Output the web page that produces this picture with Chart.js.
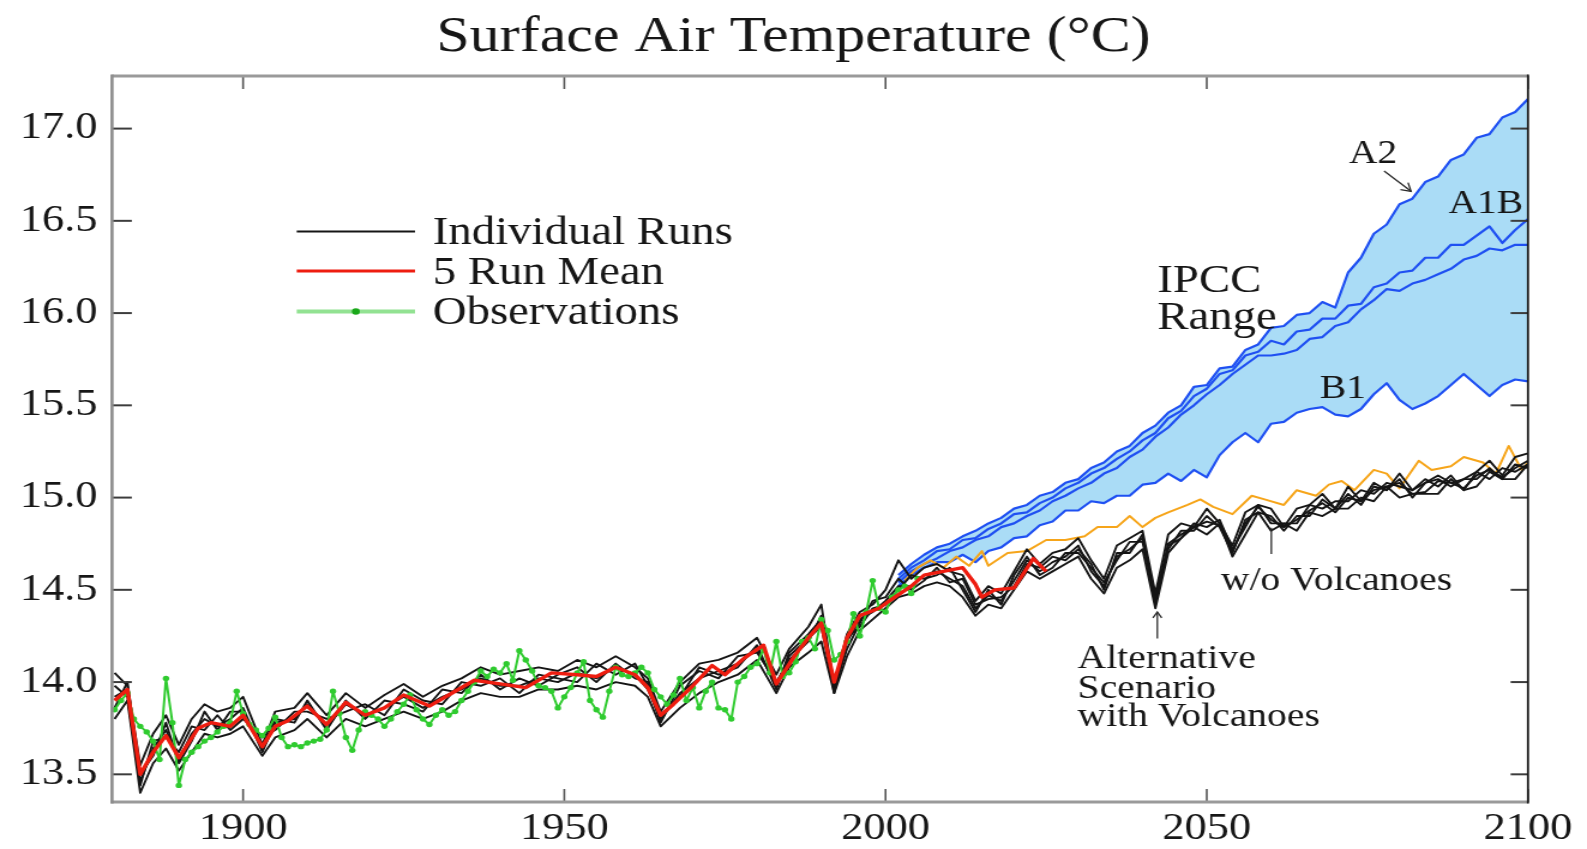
<!DOCTYPE html>
<html>
<head>
<meta charset="utf-8">
<script src="https://cdn.jsdelivr.net/npm/chart.js@4.4.1/dist/chart.umd.min.js"></script>
<style>
html,body{margin:0;padding:0;background:#fff;overflow:hidden}
#c{display:block}
</style>
</head>
<body>
<canvas id="c" width="1323" height="849" style="width:1587px;height:849px"></canvas>
<script>
// ---------------- DATA ----------------
const xTicks = [1900, 1950, 2000, 2050, 2100];
const yTicks = [13.5, 14.0, 14.5, 15.0, 15.5, 16.0, 16.5, 17.0];

// 5 Run Mean (red)
const meanYears = [1880,1882,1884,1886,1888,1890,1893,1895,1898,1900,
                   1903,1905,1907,1910,1913,1916,1919,1922,1925,1929,
                   1932,1936,1940,1944,1948,1952,1955,1958,1961,1963,
                   1965,1967,1970,1973,1975,1978,1981,1983,1986,1988,
                   1990,1992,1994,1996,1999,2001,2004,2006,2009,2012,
                   2014,2015,2017,2020,2023,2025];
const meanVals  = [13.90,13.96,13.50,13.62,13.71,13.59,13.75,13.78,13.76,13.82,
                   13.65,13.76,13.79,13.87,13.77,13.89,13.82,13.86,13.93,13.87,
                   13.93,14.01,13.99,13.97,14.05,14.04,14.03,14.08,14.04,13.97,
                   13.82,13.88,13.98,14.09,14.04,14.13,14.20,13.99,14.15,14.24,
                   14.32,14.00,14.24,14.36,14.40,14.45,14.52,14.58,14.60,14.62,
                   14.53,14.46,14.50,14.51,14.67,14.60];

// Observations (green), annual from 1880
const obsStartYear = 1880;
const obsVals = [13.85,13.90,13.94,13.80,13.76,13.73,13.68,13.58,14.02,13.78,
                 13.44,13.58,13.62,13.65,13.68,13.70,13.73,13.76,13.78,13.95,
                 13.83,13.77,13.74,13.71,13.75,13.81,13.70,13.65,13.66,13.65,
                 13.67,13.68,13.69,13.74,13.95,13.83,13.70,13.63,13.74,13.84,
                 13.82,13.80,13.76,13.80,13.84,13.88,13.93,13.85,13.80,13.77,
                 13.82,13.85,13.82,13.84,13.90,13.95,14.00,14.06,14.03,14.07,
                 14.05,14.10,14.01,14.17,14.12,14.06,13.98,13.97,13.95,13.86,
                 13.92,13.97,14.05,14.11,13.90,13.85,13.81,13.95,14.08,14.04,
                 14.03,14.05,14.08,14.05,13.96,13.92,13.88,13.93,14.02,13.90,
                 13.97,13.86,13.95,14.00,13.86,13.85,13.80,14.00,14.03,14.08,
                 14.10,14.18,14.05,14.22,14.03,14.05,14.11,14.22,14.24,14.18,
                 14.34,14.28,14.12,14.15,14.22,14.37,14.25,14.38,14.55,14.40,
                 14.38,14.46,14.50,14.52,14.48,14.56];

// Individual runs (black), incl. alternative scenario with volcanoes
const runYears = [1880,1882,1884,1886,1888,1890,1892,1894,1896,1898,
                  1900,1903,1905,1908,1910,1913,1916,1919,1922,1925,
                  1928,1931,1934,1937,1940,1943,1946,1949,1952,1955,
                  1958,1961,1963,1965,1968,1971,1974,1977,1980,1983,
                  1985,1988,1990,1992,1994,1996,1998,2000,2002,2004,
                  2006,2008,2010,2012,2014,2016,2018,2020,2022,2024,
                  2026,2028,2030,2032,2034,2036,2038,2040,2042,2044,
                  2046,2048,2050,2052,2054,2056,2058,2060,2062,2064,
                  2066,2068,2070,2072,2074,2076,2078,2080,2082,2084,
                  2086,2088,2090,2092,2094,2096,2098,2100];
const run1 = [14.05,13.98,13.55,13.72,13.82,13.66,13.80,13.88,13.84,13.86,
              13.92,13.66,13.84,13.86,13.94,13.82,13.94,13.86,13.93,13.99,
              13.92,13.98,14.02,14.08,14.04,14.06,14.08,14.06,14.12,14.08,
              14.14,14.08,14.02,13.84,14.00,14.10,14.12,14.16,14.24,14.04,
              14.18,14.30,14.42,13.98,14.26,14.38,14.42,14.50,14.66,14.56,
              14.62,14.64,14.60,14.58,14.44,14.52,14.48,14.60,14.72,14.64,
              14.70,14.72,14.78,14.66,14.56,14.74,14.78,14.82,14.48,14.80,
              14.86,14.84,14.94,14.86,14.74,14.92,14.96,14.94,14.84,14.94,
              14.96,15.02,14.94,15.06,14.98,15.08,15.04,15.13,15.04,15.08,
              15.12,15.08,15.10,15.14,15.20,15.12,15.22,15.24];
const run2 = [13.80,13.90,13.40,13.56,13.64,13.52,13.62,13.72,13.70,13.72,
              13.76,13.60,13.70,13.74,13.80,13.70,13.80,13.76,13.80,13.84,
              13.80,13.84,13.90,13.94,13.92,13.92,13.96,13.96,13.98,13.96,
              14.00,13.98,13.92,13.76,13.86,13.94,14.00,14.04,14.12,13.94,
              14.08,14.16,14.22,13.94,14.14,14.28,14.34,14.40,14.46,14.48,
              14.52,14.54,14.52,14.46,14.36,14.42,14.40,14.50,14.60,14.56,
              14.60,14.64,14.68,14.56,14.48,14.62,14.66,14.72,14.40,14.70,
              14.78,14.84,14.80,14.86,14.68,14.80,14.92,14.82,14.86,14.82,
              14.92,14.90,14.94,14.94,15.00,14.98,15.06,15.00,15.02,15.02,
              15.02,15.10,15.04,15.06,15.14,15.10,15.10,15.18];
const run3 = [13.92,13.96,13.46,13.64,13.74,13.58,13.72,13.80,13.76,13.80,
              13.86,13.62,13.78,13.80,13.88,13.76,13.88,13.82,13.86,13.92,
              13.86,13.92,13.96,14.02,13.98,13.98,14.02,14.00,14.05,14.02,
              14.08,14.04,13.96,13.80,13.94,14.02,14.06,14.10,14.18,13.98,
              14.14,14.24,14.30,13.96,14.22,14.34,14.38,14.44,14.52,14.52,
              14.58,14.60,14.56,14.52,14.40,14.47,14.44,14.55,14.66,14.60,
              14.65,14.68,14.74,14.60,14.52,14.68,14.72,14.78,14.44,14.75,
              14.80,14.84,14.87,14.85,14.71,14.86,14.95,14.88,14.84,14.88,
              14.93,14.97,14.92,15.00,14.98,15.04,15.06,15.08,15.02,15.03,
              15.09,15.08,15.05,15.12,15.15,15.11,15.16,15.20];
const run4 = [13.98,13.92,13.44,13.68,13.70,13.62,13.76,13.74,13.82,13.74,
              13.80,13.70,13.74,13.84,13.84,13.80,13.84,13.88,13.82,13.96,
              13.90,13.88,14.00,13.98,14.02,13.94,14.04,14.02,14.00,14.10,
              14.04,14.10,13.98,13.78,13.98,14.06,14.02,14.14,14.16,14.00,
              14.12,14.22,14.36,13.96,14.18,14.32,14.44,14.46,14.56,14.50,
              14.55,14.62,14.54,14.56,14.42,14.45,14.46,14.52,14.64,14.62,
              14.68,14.66,14.72,14.64,14.50,14.70,14.70,14.80,14.42,14.74,
              14.78,14.86,14.84,14.88,14.72,14.84,14.96,14.86,14.86,14.86,
              14.96,14.94,14.98,14.98,15.04,15.02,15.08,15.06,15.04,15.10,
              15.06,15.12,15.04,15.14,15.10,15.16,15.14,15.18];
const run5 = [13.86,14.00,13.50,13.60,13.78,13.56,13.68,13.84,13.74,13.84,
              13.84,13.64,13.80,13.78,13.90,13.74,13.90,13.80,13.90,13.88,
              13.84,13.96,13.94,14.04,13.96,14.02,13.98,14.04,14.08,14.00,
              14.10,14.02,14.00,13.82,13.92,14.08,14.04,14.08,14.20,13.96,
              14.16,14.26,14.34,13.94,14.24,14.30,14.40,14.42,14.50,14.58,
              14.56,14.58,14.62,14.50,14.38,14.50,14.42,14.58,14.68,14.58,
              14.62,14.70,14.70,14.62,14.54,14.66,14.76,14.76,14.46,14.72,
              14.82,14.82,14.90,14.84,14.70,14.88,14.92,14.90,14.82,14.90,
              14.90,14.99,14.94,15.02,14.96,15.06,15.04,15.10,15.00,15.08,
              15.10,15.06,15.10,15.10,15.16,15.10,15.18,15.16];

// Scenario without volcanoes (orange)
const noVolcYears = [2003,2005,2007,2009,2011,2013,2015,2016,2019,2022,
                     2025,2028,2031,2033,2036,2038,2040,2042,2044,2047,
                     2049,2051,2054,2057,2059,2062,2064,2067,2069,2071,
                     2073,2076,2078,2080,2083,2085,2088,2090,2093,2095,
                     2097,2099,2100];
const noVolcVals  = [14.55,14.62,14.66,14.62,14.68,14.63,14.71,14.63,14.70,14.71,
                     14.77,14.77,14.79,14.84,14.84,14.90,14.84,14.89,14.92,14.96,
                     14.99,14.95,14.91,15.01,14.99,14.96,15.04,15.01,15.07,15.09,
                     15.04,15.15,15.13,15.05,15.20,15.15,15.17,15.22,15.19,15.13,
                     15.28,15.15,15.19];

// IPCC scenarios (blue)
const ipccYears = [2002,2004,2006,2008,2010,2012,2014,2016,2018,2020,
                   2022,2024,2026,2028,2030,2032,2034,2036,2038,2040,
                   2042,2044,2046,2048,2050,2052,2054,2056,2058,2060,
                   2062,2064,2066,2068,2070,2072,2074,2076,2078,2080,
                   2082,2084,2086,2088,2090,2092,2094,2096,2098,2100];
const a2Vals   = [14.58,14.64,14.69,14.73,14.75,14.79,14.82,14.86,14.89,14.94,
                  14.96,15.01,15.03,15.08,15.10,15.16,15.19,15.25,15.28,15.35,
                  15.39,15.46,15.50,15.60,15.61,15.70,15.71,15.80,15.83,15.92,
                  15.93,15.99,16.00,16.06,16.03,16.22,16.30,16.43,16.48,16.59,
                  16.62,16.71,16.74,16.83,16.86,16.95,16.97,17.06,17.09,17.16];
const a1bVals1 = [14.56,14.62,14.66,14.71,14.72,14.77,14.78,14.83,14.86,14.91,
                  14.92,14.97,15.00,15.05,15.08,15.13,15.16,15.21,15.25,15.31,
                  15.35,15.43,15.47,15.55,15.59,15.67,15.69,15.77,15.79,15.85,
                  15.83,15.90,15.91,15.97,15.97,16.04,16.05,16.14,16.16,16.22,
                  16.23,16.30,16.30,16.37,16.37,16.42,16.47,16.38,16.45,16.51];
const a1bVals2 = [14.54,14.60,14.64,14.67,14.71,14.73,14.77,14.79,14.84,14.86,
                  14.90,14.93,14.98,15.01,15.05,15.08,15.13,15.16,15.22,15.26,
                  15.33,15.38,15.45,15.50,15.56,15.61,15.67,15.72,15.77,15.77,
                  15.78,15.80,15.86,15.87,15.93,15.95,16.02,16.07,16.13,16.12,
                  16.16,16.18,16.21,16.24,16.29,16.31,16.35,16.34,16.37,16.37];
const b1Vals   = [14.52,14.58,14.62,14.65,14.65,14.69,14.65,14.71,14.73,14.78,
                  14.79,14.85,14.87,14.93,14.93,14.98,14.97,15.01,15.01,15.07,
                  15.08,15.13,15.09,15.15,15.11,15.23,15.30,15.35,15.30,15.40,
                  15.41,15.46,15.48,15.49,15.45,15.44,15.48,15.56,15.62,15.53,
                  15.48,15.51,15.55,15.61,15.67,15.61,15.55,15.61,15.64,15.63];

// ---------------- CHART ----------------
const SERIF = '"Liberation Serif", "Times New Roman", serif';
const SX = 1587 / 1323;               // horizontal stretch of the canvas
const toPts = (xs, ys) => xs.map((x, i) => ({x: x, y: ys[i]}));
const obsYears = obsVals.map((_, i) => obsStartYear + i);

const COLORS = {
  black: '#151515', red: '#ee1d10', green: '#2fcb2f', greenDot: '#1aa81a',
  legendGreen: '#92e292', orange: '#f6a51a', blue: '#1f50f2', fill: '#aadcf6',
  text: '#161616'
};

const frameTicks = {
  id: 'frameTicks',
  afterDatasetsDraw(chart) {
    const {ctx, chartArea: a, scales: {x, y}} = chart;
    ctx.save();
    ctx.lineCap = 'butt';
    ctx.strokeStyle = '#3c3c3c';
    ctx.lineWidth = 2;
    yTicks.forEach(v => {
      const py = y.getPixelForValue(v);
      ctx.beginPath(); ctx.moveTo(a.left, py); ctx.lineTo(a.left + 16.5, py); ctx.stroke();
      ctx.beginPath(); ctx.moveTo(a.right, py); ctx.lineTo(a.right - 14.5, py); ctx.stroke();
    });
    ctx.strokeStyle = '#555';
    ctx.lineWidth = 1.6;
    xTicks.forEach(v => {
      const px = x.getPixelForValue(v);
      ctx.beginPath(); ctx.moveTo(px, a.bottom); ctx.lineTo(px, a.bottom - 13); ctx.stroke();
      ctx.beginPath(); ctx.moveTo(px, a.top); ctx.lineTo(px, a.top + 13); ctx.stroke();
    });
    // frame
    ctx.strokeStyle = '#9a9a9a'; ctx.lineWidth = 3;
    ctx.beginPath(); ctx.moveTo(a.left, a.top); ctx.lineTo(a.right, a.top); ctx.stroke();
    ctx.beginPath(); ctx.moveTo(a.left - 1, a.bottom); ctx.lineTo(a.right, a.bottom); ctx.stroke();
    ctx.strokeStyle = '#8d8d8d'; ctx.lineWidth = 2.6;
    ctx.beginPath(); ctx.moveTo(a.left, a.top - 1.5); ctx.lineTo(a.left, a.bottom + 1.5); ctx.stroke();
    ctx.strokeStyle = '#1c1c1c'; ctx.lineWidth = 1.8;
    ctx.beginPath(); ctx.moveTo(a.right, a.top - 1.5); ctx.lineTo(a.right, a.bottom + 1.5); ctx.stroke();
    ctx.restore();
  }
};

// annotation anchors, in data units (year, °C)
const notes = [
  {t: 'A2', x: 2072.1, y: 16.815, size: 33},
  {t: 'A1B', x: 2087.6, y: 16.545, size: 33},
  {t: 'IPCC', x: 2042.3, y: 16.114, size: 39},
  {t: 'Range', x: 2042.3, y: 15.916, size: 39},
  {t: 'B1', x: 2067.6, y: 15.539, size: 33},
  {t: 'w/o Volcanoes', x: 2052.2, y: 14.498, size: 33},
  {t: 'Alternative', x: 2029.9, y: 14.075, size: 33},
  {t: 'Scenario', x: 2029.9, y: 13.913, size: 33},
  {t: 'with Volcanoes', x: 2029.9, y: 13.76, size: 33}
];

function arrow(ctx, x1, y1, x2, y2, head) {
  ctx.beginPath(); ctx.moveTo(x1, y1); ctx.lineTo(x2, y2); ctx.stroke();
  const ang = Math.atan2(y2 - y1, x2 - x1);
  ctx.beginPath();
  ctx.moveTo(x2 - head * Math.cos(ang - 0.55), y2 - head * Math.sin(ang - 0.55));
  ctx.lineTo(x2, y2);
  ctx.lineTo(x2 - head * Math.cos(ang + 0.55), y2 - head * Math.sin(ang + 0.55));
  ctx.stroke();
}

const annotations = {
  id: 'annotations',
  afterDatasetsDraw(chart) {
    const {ctx, scales: {x, y}} = chart;
    ctx.save();
    ctx.fillStyle = COLORS.text;
    ctx.textAlign = 'left';
    ctx.textBaseline = 'alphabetic';
    notes.forEach(n => {
      ctx.font = n.size + 'px ' + SERIF;
      ctx.fillText(n.t, x.getPixelForValue(n.x), y.getPixelForValue(n.y));
    });
    ctx.strokeStyle = '#2a2a2a';
    ctx.lineWidth = 1.3;
    arrow(ctx, x.getPixelForValue(2077.6), y.getPixelForValue(16.77),
               x.getPixelForValue(2081.8), y.getPixelForValue(16.66), 9);
    arrow(ctx, x.getPixelForValue(2042.3), y.getPixelForValue(14.236),
               x.getPixelForValue(2042.3), y.getPixelForValue(14.38), 7);
    ctx.beginPath();
    ctx.moveTo(x.getPixelForValue(2060.05), y.getPixelForValue(14.837));
    ctx.lineTo(x.getPixelForValue(2060.05), y.getPixelForValue(14.694));
    ctx.stroke();
    ctx.restore();
  }
};

const legendRows = [
  {t: 'Individual Runs', c: COLORS.black, w: 2.2},
  {t: '5 Run Mean', c: COLORS.red, w: 3.2},
  {t: 'Observations', c: COLORS.legendGreen, w: 4, dot: COLORS.greenDot}
];
const customLegend = {
  id: 'customLegend',
  afterDraw(chart) {
    const ctx = chart.ctx;
    const x0 = 296.7 / SX, x1 = 415 / SX, tx = 432.7 / SX;
    const ys = [231.5, 271, 311.5];
    ctx.save();
    ctx.font = '39px ' + SERIF;
    ctx.textBaseline = 'alphabetic';
    ctx.textAlign = 'left';
    legendRows.forEach((r, i) => {
      ctx.strokeStyle = r.c; ctx.lineWidth = r.w;
      ctx.beginPath(); ctx.moveTo(x0, ys[i]); ctx.lineTo(x1, ys[i]); ctx.stroke();
      if (r.dot) {
        ctx.fillStyle = r.dot;
        ctx.beginPath(); ctx.arc((x0 + x1) / 2, ys[i], 3.3, 0, Math.PI * 2); ctx.fill();
      }
      ctx.fillStyle = COLORS.text;
      ctx.fillText(r.t, tx, ys[i] + 12.5);
    });
    ctx.restore();
  }
};

const lineDefaults = {pointRadius: 0, tension: 0, fill: false, borderJoinStyle: 'round'};
const mk = (label, xs, ys, color, width, extra) =>
  Object.assign({}, lineDefaults, {label: label, data: toPts(xs, ys), borderColor: color, borderWidth: width}, extra || {});

new Chart(document.getElementById('c'), {
  type: 'line',
  data: {
    datasets: [
      mk('5 Run Mean', meanYears, meanVals, COLORS.red, 3.4),
      mk('Observations', obsYears, obsVals, COLORS.green, 2,
         {pointRadius: 2.7, pointBackgroundColor: COLORS.green, pointBorderWidth: 0}),
      mk('Individual Run 1', runYears, run1, COLORS.black, 1.9),
      mk('Individual Run 2', runYears, run2, COLORS.black, 1.9),
      mk('Individual Run 3', runYears, run3, COLORS.black, 1.9),
      mk('Individual Run 4', runYears, run4, COLORS.black, 1.9),
      mk('Individual Run 5', runYears, run5, COLORS.black, 1.9),
      mk('w/o Volcanoes', noVolcYears, noVolcVals, COLORS.orange, 2),
      mk('A2', ipccYears, a2Vals, COLORS.blue, 2.2),
      mk('A1B (a)', ipccYears, a1bVals1, COLORS.blue, 2.2),
      mk('A1B (b)', ipccYears, a1bVals2, COLORS.blue, 2.2),
      mk('B1', ipccYears, b1Vals, COLORS.blue, 2.2, {fill: 8, backgroundColor: COLORS.fill})
    ]
  },
  options: {
    responsive: false,
    animation: false,
    devicePixelRatio: 1,
    layout: {padding: 0},
    events: [],
    plugins: {
      legend: {display: false},
      tooltip: {enabled: false},
      filler: {drawTime: 'beforeDatasetsDraw', propagate: false},
      title: {
        display: true,
        text: 'Surface Air Temperature (°C)',
        color: COLORS.text,
        font: {family: SERIF, size: 50, weight: 'normal', lineHeight: 1.2},
        padding: {top: 8, bottom: 8}
      }
    },
    scales: {
      x: {
        type: 'linear', min: 1879.6, max: 2100,
        afterBuildTicks: s => { s.ticks = xTicks.map(v => ({value: v})); },
        afterFit: s => { s.height = 47; },
        ticks: {callback: v => String(v), color: COLORS.text, padding: 5,
                font: {family: SERIF, size: 37}, maxRotation: 0, autoSkip: false},
        grid: {display: false, drawTicks: false},
        border: {display: false}
      },
      y: {
        type: 'linear', min: 13.35, max: 17.285,
        afterBuildTicks: s => { s.ticks = yTicks.map(v => ({value: v})); },
        afterFit: s => { s.width = 112 / SX; },
        ticks: {callback: v => Number(v).toFixed(1), color: COLORS.text, padding: 12,
                font: {family: SERIF, size: 37}, autoSkip: false},
        grid: {display: false, drawTicks: false},
        border: {display: false}
      },
      yRight: {
        type: 'linear', position: 'right', min: 13.35, max: 17.285,
        afterFit: s => { s.width = 1323 - 1528 / SX; },
        ticks: {display: false},
        grid: {display: false, drawTicks: false},
        border: {display: false}
      }
    }
  },
  plugins: [frameTicks, annotations, customLegend]
});
</script>
</body>
</html>
